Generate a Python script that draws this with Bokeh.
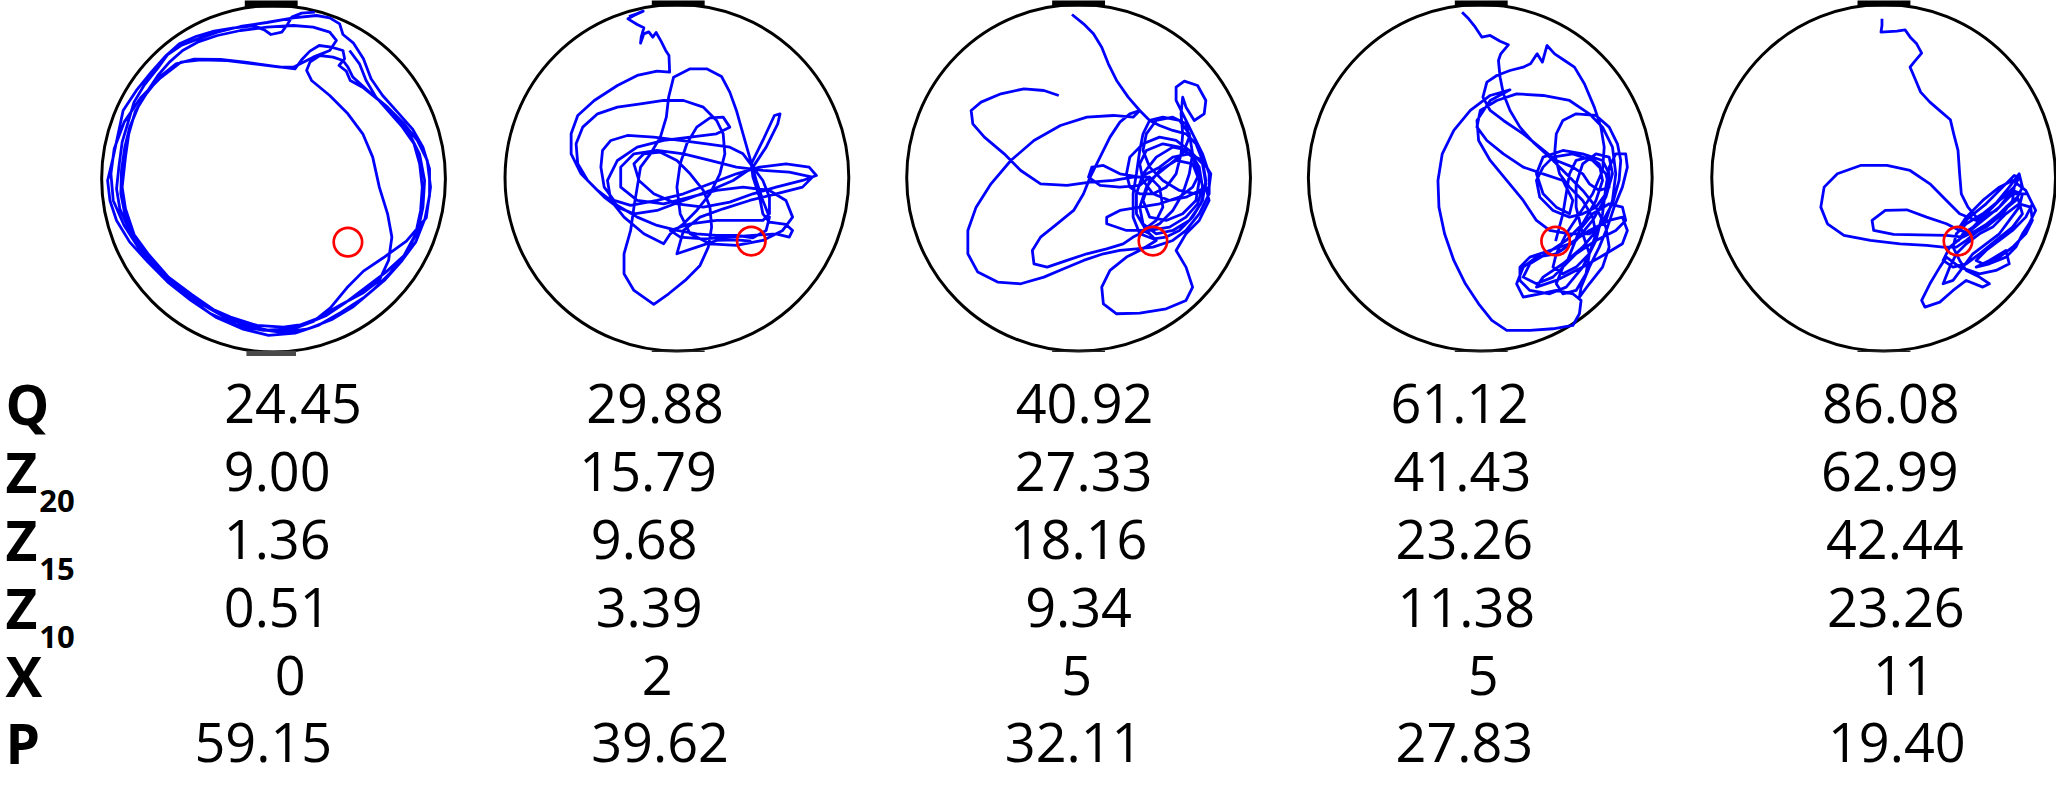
from bokeh.plotting import figure
from bokeh.models import Range1d, ColumnDataSource
from bokeh.core.properties import value
from bokeh.embed import file_html
from bokeh.resources import INLINE

# ---------------- data ----------------
Q_vals = [24.45, 29.88, 40.92, 61.12, 86.08]
Z20_vals = [9.00, 15.79, 27.33, 41.43, 62.99]
Z15_vals = [1.36, 9.68, 18.16, 23.26, 42.44]
Z10_vals = [0.51, 3.39, 9.34, 11.38, 23.26]
X_vals = [0, 2, 5, 5, 11]
P_vals = [59.15, 39.62, 32.11, 27.83, 19.40]

row_labels = ["Q", "Z", "Z", "Z", "X", "P"]
row_subs = ["", "20", "15", "10", "", ""]

# swim tracks in camera pixel coordinates of each pool's own frame
track1 = [(945,35),(905,38),(875,50),(862,72),(845,95),(812,102),(792,88),(760,76),(700,82),(640,92),(585,108),(535,130),(495,165),(450,215),(405,270),(365,330),(350,400),(335,470),(318,540),(325,600),(345,660),(385,725),(440,785),(500,845),(570,900),(645,950),(725,985),(805,1005),(885,998),(955,975),(1025,935),(1095,890),(1155,840),(1205,785),(1250,725),(1278,655),(1292,585),(1292,505),(1272,440),(1240,385),(1195,335),(1150,285),(1115,235),(1092,175),(1062,128),(1030,102),(1020,70),(990,52),(950,45),(880,52),(800,66),(720,78),(650,95),(590,116),(540,135),(500,162),(468,205),(428,255),(398,305),(380,365),(362,425),(352,500),(345,565),(355,625),(382,685),(422,745),(472,805),(532,862),(605,912),(685,957),(765,985),(845,996),(925,985),(995,958),(1062,918),(1122,868),(1172,818),(1222,758),(1257,690),(1272,620),(1277,540),(1262,462),(1232,402),(1192,352),(1142,302),(1092,262),(1052,240),(1040,212),(1018,195),(1035,175),(1030,150),(995,140),(958,135),(930,152),(905,178),(885,205),(820,197),(740,186),(660,177),(580,176),(525,190),(475,230),(435,280),(402,332),(382,400),(372,470),(362,560),(372,625),(398,702),(442,762),(502,830),(572,882),(642,930),(722,968),(802,990),(882,985),(942,962),(992,922),(1042,862),(1092,812),(1152,772),(1222,722),(1282,652),(1295,560),(1285,480),(1255,420),(1215,370),(1165,320),(1110,275),(1060,230),(1045,200),(1030,180),(1000,170),(960,165),(930,185),(920,210),(935,240),(990,285),(1045,340),(1090,400),(1120,470),(1140,560),(1165,640),(1178,710),(1168,780),(1140,840),(1090,878),(1025,912),(950,955),(870,985),(790,990),(710,975),(630,940),(560,890),(490,830),(420,755),(368,675),(335,600),(328,520),(338,445),(368,365),(418,292),(478,232),(540,185),(600,178),(680,180),(760,190),(840,200),(880,200),(940,170),(990,150),(1010,120),(990,95),(940,80),(880,75),(800,80),(720,90),(650,105),(590,125),(545,150),(505,185),(470,225),(440,270),(410,320),(385,380),(370,440),(360,510),(358,580),(370,640),(395,700),(430,760),(480,820),(540,870),(610,915),(690,950),(770,975),(850,980),(920,970),(980,945),(1040,905),(1100,860),(1160,815),(1215,765),(1250,700),(1265,630),(1270,560),(1262,490),(1245,430),(1210,380),(1170,335),(1130,290),(1100,240),(1080,190),(1050,150)]

track2 = [(455,48),(478,40),(498,32),(470,45),(452,55),(480,72),(500,82),(492,110),(490,128),(500,100),(515,94),(527,110),(537,96),(552,122),(566,150),(576,165),(578,215),(540,212),(480,225),(420,255),(350,300),(300,345),(280,400),(280,460),(310,520),(360,570),(420,615),(480,650),(540,675),(600,690),(660,700),(720,705),(780,705),(830,712),(870,690),(880,650),(860,600),(840,540),(820,470),(800,400),(780,330),(760,275),(735,228),(690,205),(640,205),(590,230),(575,290),(568,350),(550,410),(520,460),(490,500),(480,560),(470,620),(460,690),(440,760),(440,820),(470,870),(530,912),(575,880),(625,840),(670,795),(695,740),(705,680),(700,620),(680,570),(640,520),(600,480),(550,455),(500,460),(470,490),(485,540),(530,580),(600,610),(680,620),(760,605),(830,580),(900,560),(980,540),(1022,525),(1000,500),(930,490),(850,500),(780,520),(700,550),(620,580),(540,600),(460,615),(410,600),(380,560),(370,500),(375,450),(400,420),(450,405),(530,410),(610,420),(690,430),(760,440),(800,460),(830,500),(860,540),(880,590),(880,640),(860,660),(800,660),(720,660),(640,670),(580,690),(610,710),(680,715),(760,710),(830,705),(900,700),(940,710),(950,690),(930,672),(880,665),(860,640),(850,590),(830,530),(825,490),(860,420),(895,345),(912,340),(905,370),(870,440),(830,500),(770,540),(700,570),(620,600),(540,630),(470,640),(420,620),(380,590),(330,540),(300,490),(295,430),(315,380),(360,340),(420,320),(490,310),(560,300),(620,300),(680,320),(720,360),(740,400),(745,460),(730,520),(700,580),(660,630),(620,670),(580,700),(560,730),(500,700),(440,650),(400,600),(390,540),(420,480),(480,440),(560,420),(640,410),(720,400),(760,380),(740,350),(700,352),(660,380),(630,430),(610,490),(600,560),(610,640),(640,700),(700,730),(780,735),(860,720),(920,690),(950,650),(930,600),(880,570),(800,560),(720,570),(640,590),(560,610),(480,600),(430,560),(430,500),(470,460),(540,450),(620,460),(700,480),(780,500),(860,510),(940,515),(1010,530),(980,560),(900,580),(820,600),(740,625),(670,650),(620,690),(600,760),(660,740),(720,720),(780,718),(825,722)]

track3 = [(595,42),(630,70),(660,100),(685,140),(705,190),(730,240),(765,290),(800,330),(830,360),(860,375),(900,390),(940,400),(970,430),(990,480),(1000,540),(990,600),(960,650),(920,690),(880,710),(840,715),(800,700),(780,650),(780,580),(790,520),(800,450),(810,400),(830,360),(870,350),(920,360),(950,400),(960,460),(950,520),(930,580),(900,630),(860,670),(820,690),(780,710),(750,730),(700,745),(640,760),(580,780),(520,800),(480,790),(475,750),(500,710),(550,670),(600,630),(630,580),(650,530),(680,470),(710,410),(740,365),(770,340),(800,330),(780,350),(720,345),(640,350),(560,375),(480,420),(410,480),(350,550),(305,620),(280,690),(280,760),(310,815),(370,845),(440,850),(510,830),(570,805),(630,780),(690,760),(740,750),(790,745),(840,740),(900,720),(940,690),(980,640),(1010,580),(1010,520),(990,460),(960,400),(940,360),(910,300),(910,260),(935,242),(975,255),(1000,300),(995,340),(965,360),(940,320),(930,290),(925,340),(930,400),(925,460),(910,520),(880,560),(840,580),(800,580),(770,560),(760,520),(770,470),(810,430),(860,410),(910,420),(950,450),(980,500),(990,560),(975,610),(940,650),(890,680),(830,690),(760,690),(700,670),(700,650),(740,630),(800,620),(860,610),(920,590),(960,560),(980,520),(960,470),(920,440),(870,430),(820,450),(800,490),(810,540),(840,580),(890,600),(940,590),(1000,560),(1010,600),(980,660),(940,700),(910,750),(940,800),(960,860),(940,900),(880,925),(800,938),(730,940),(690,910),(685,860),(710,810),(760,770),(810,745),(850,720),(820,690),(790,640),(790,580),(810,520),(850,470),(900,440),(950,450),(990,490),(1000,550),(985,610),(950,660),(900,690),(850,700),(810,670),(800,620),(820,560),(860,510),(910,480),(960,490),(980,540),(970,600),(930,640),(880,660),(830,650),(810,600),(830,540),(880,500),(930,460),(950,410),(940,370),(900,350),(850,360),(820,400),(810,450),(830,500),(870,540),(920,570),(970,580),(1010,560),(1015,520),(990,480),(950,460),(900,470),(860,500),(800,530),(740,520),(690,495),(655,500),(645,530),(680,555),(740,560),(800,555),(830,530),(860,560),(870,620),(850,660),(810,690),(830,700),(810,690),(850,660),(870,620),(860,560),(830,530),(780,530),(720,540),(650,545),(580,555),(500,550),(440,510),(390,460),(330,410),(295,370),(290,330),(320,305),(380,280),(450,265),(510,270),(555,285)]

track4 = [(515,35),(535,55),(555,80),(575,110),(600,105),(630,122),(655,133),(632,160),(625,180),(630,230),(640,280),(660,330),(690,380),(730,425),(780,470),(830,520),(880,570),(920,620),(950,680),(960,740),(940,800),(900,850),(870,890),(875,860),(900,800),(930,740),(955,680),(975,620),(1000,560),(1015,500),(1010,460),(980,460),(960,500),(950,560),(940,640),(920,720),(880,800),(830,860),(780,880),(720,870),(690,840),(690,800),(720,770),(780,750),(840,730),(900,690),(960,660),(1000,650),(1015,690),(1000,730),(950,760),(880,800),(800,840),(740,860),(760,830),(820,790),(880,740),(930,680),(970,610),(990,540),(995,480),(985,430),(960,380),(920,345),(860,340),(820,360),(800,400),(795,460),(810,520),(840,560),(880,600),(910,650),(920,700),(900,760),(860,800),(820,820),(790,800),(800,760),(830,700),(870,640),(910,580),(940,510),(945,440),(935,380),(915,320),(885,250),(855,200),(825,180),(795,160),(772,135),(758,185),(742,160),(722,190),(700,200),(660,210),(620,225),(590,245),(578,290),(600,330),(640,360),(700,400),(750,440),(800,480),(850,500),(880,520),(900,550),(930,570),(960,560),(950,520),(910,480),(850,460),(790,470),(760,500),(740,540),(750,590),(790,630),(840,650),(880,640),(920,620),(950,580),(960,520),(940,480),(880,460),(820,450),(760,470),(740,520),(760,580),(800,620),(840,640),(850,600),(820,540),(760,520),(700,500),(640,460),(590,420),(560,380),(570,330),(620,300),(680,280),(760,285),(840,300),(900,340),(940,380),(970,440),(980,520),(970,600),(950,660),(900,700),(840,700),(780,690),(740,660),(700,600),(650,540),(600,480),(565,420),(560,360),(600,300),(660,268),(600,285),(540,330),(490,390),(455,460),(442,540),(445,620),(462,700),(490,780),(525,850),(565,910),(605,960),(650,990),(720,990),(790,985),(850,975),(870,940),(875,900),(850,880),(800,870),(750,880),(700,890),(680,850),(700,800),(740,770),(800,760),(860,720),(910,660),(950,590),(970,520),(960,470),(920,460),(880,490),(860,550),(860,620),(880,700),(900,760),(890,820),(860,870),(820,880),(800,850),(820,800),(860,760),(920,720),(980,690),(1010,660),(1000,620),(960,610),(910,640),(870,690),(850,740),(830,790),(790,830),(740,850),(700,830),(720,790),(770,760),(830,720),(880,670),(920,600),(940,540),(930,490),(900,470),(860,480),(840,520),(830,580),(820,640),(798,722)]

track5 = [(645,55),(645,75),(642,95),(690,92),(715,88),(732,112),(750,130),(765,158),(742,185),(730,200),(745,235),(762,275),(790,305),(825,335),(852,358),(862,400),(875,450),(880,520),(885,580),(905,620),(935,655),(980,620),(1030,560),(1060,520),(1070,560),(1050,600),(1000,640),(950,680),(900,720),(870,740),(830,740),(780,735),(700,730),(610,720),(530,705),(480,670),(460,620),(470,560),(510,520),(580,495),(660,495),(730,510),(790,550),(840,600),(880,640),(930,660),(990,630),(1040,580),(1085,580),(1110,630),(1090,670),(1070,700),(1050,740),(1020,770),(970,790),(930,800),(970,780),(1020,750),(1030,790),(990,810),(940,820),(880,800),(840,770),(820,800),(790,850),(765,900),(775,920),(820,905),(860,870),(900,840),(950,860),(970,850),(940,830),(900,810),(880,780),(860,740),(870,700),(900,670),(950,640),(1000,600),(1045,560),(1040,600),(1010,640),(960,680),(920,700),(880,690),(840,670),(780,650),(720,628),(655,630),(615,660),(620,690),(680,702),(760,703),(840,705),(890,710),(930,690),(980,660),(1020,620),(1055,590),(1070,640),(1040,680),(990,720),(940,760),(900,790),(860,800),(830,780),(850,740),(900,700),(950,660),(1000,620),(1040,570),(1060,530),(1045,525),(1010,560),(960,610),(910,650),(880,680),(900,650),(950,600),(1000,560),(1040,540),(1080,570),(1100,610),(1080,650),(1040,690),(1000,720),(960,750),(930,780),(950,790),(1000,770),(1040,740),(1080,700),(1100,660),(1095,620),(1060,610),(1020,640),(980,680),(940,700),(900,730),(870,760),(850,800),(830,850),(860,840),(890,800),(920,760),(960,730),(1000,700),(1030,660),(1060,620),(1070,580),(1040,570),(1000,600),(960,640),(920,680),(890,700),(875,722)]

tracks = [track1, track2, track3, track4, track5]

# platform position in each pool's camera frame
platform_x = [1045, 825, 840, 798, 875]
platform_y = [725, 722, 722, 722, 722]

# ---------------- layout (positions / sizes) ----------------
W, H = 2056, 784
X0, X1 = -2, 2071
YSCALE = 1.0
cam_cx = [820, 600, 615, 570, 650]
cam_cy = [535, 532, 532, 532, 532]
cam_r = 520
cue_cx = [813, 604, 615, 573, 651]
page_cx = [273.3, 680.0, 1085.0, 1490.0, 1896.7]
page_cy = [178.3, 177.3, 177.3, 177.3, 177.3]
page_r = 173.3

row_y = [428, 496, 564, 632, 700, 767]      # text baselines
cell_x = [[293, 658, 1091, 1469, 1904],
          [277, 651, 1090, 1472, 1903],
          [277, 647, 1085, 1474, 1908],
          [277, 652, 1085, 1476, 1909],
          [290, 660, 1083, 1493, 1917],
          [263, 663, 1080, 1474, 1910]]
label_x = 3
sub_x = 37
sub_dy = 19
NUM_FS, LAB_FS, SUB_FS = 54, 55, 31
DESC = 0.46  # empirical baseline correction (em)


def base(y, fs):
    return y - DESC * fs / YSCALE


p = figure(width=W, height=H, x_range=Range1d(X0, X1), y_range=Range1d(H, 0),
           output_backend="svg", toolbar_location=None,
           x_axis_location=None, y_axis_location=None, min_border=0)
p.grid.visible = False
p.outline_line_color = None
p.background_fill_color = "white"
p.border_fill_color = "white"

for i in range(5):
    cx, cy = cam_cx[i], cam_cy[i]
    sub = p.subplot(
        x_source=Range1d(cx - cam_r, cx + cam_r),
        y_source=Range1d(cy - cam_r, cy + cam_r),
        x_target=Range1d(page_cx[i] - page_r, page_cx[i] + page_r),
        y_target=Range1d(page_cy[i] - page_r, page_cy[i] + page_r),
    )
    sub.ellipse(x=[cx], y=[cy], width=[2 * cam_r], height=[2 * cam_r],
                fill_color=None, line_color="black", line_width=3.0)
    xs = [pt[0] for pt in tracks[i]]
    ys = [pt[1] for pt in tracks[i]]
    sub.line(x=xs, y=ys, line_color="#0000ff", line_width=2.8, line_join="round")
    sub.ellipse(x=[platform_x[i]], y=[platform_y[i]], width=[86], height=[86],
                fill_color=None, line_color="#ff0000", line_width=2.7)
    top = cy - cam_r
    bot = cy + cam_r
    sub.quad(left=[cue_cx[i] - 80], right=[cue_cx[i] + 80], top=[top - 30], bottom=[top + 7],
             fill_color="black", line_color=None)
    if i == 0:
        sub.quad(left=[cue_cx[i] - 75], right=[cue_cx[i] + 75], top=[bot - 4], bottom=[bot + 12],
                 fill_color="#4a4a4a", line_color=None)
    else:
        sub.quad(left=[cue_cx[i] - 80], right=[cue_cx[i] + 80], top=[bot - 2], bottom=[bot + 3],
                 fill_color="#222222", line_color=None)

# ---------------- table ----------------
rows = [Q_vals, Z20_vals, Z15_vals, Z10_vals, X_vals, P_vals]
tx, ty, tt = [], [], []
for r, vals in enumerate(rows):
    for c, v in enumerate(vals):
        tx.append(cell_x[r][c])
        ty.append(base(row_y[r], NUM_FS))
        tt.append(str(v) if isinstance(v, int) else f"{v:.2f}")
p.text(x="x", y="y", text="text", source=ColumnDataSource(dict(x=tx, y=ty, text=tt)),
       text_font=value("Open Sans"), text_font_size=f"{NUM_FS}px", text_color="black",
       text_align="center", text_baseline="alphabetic")

p.text(x=[label_x] * len(row_labels), y=[base(y, LAB_FS) for y in row_y], text=row_labels,
       text_font=value("Open Sans"), text_font_size=f"{LAB_FS}px", text_font_style="bold",
       text_color="black", text_align="left", text_baseline="alphabetic")

sx, sy, st = [], [], []
for r, s in enumerate(row_subs):
    if s:
        sx.append(sub_x)
        sy.append(base(row_y[r] + sub_dy, SUB_FS))
        st.append(s)
p.text(x=sx, y=sy, text=st,
       text_font=value("Open Sans"), text_font_size=f"{SUB_FS}px", text_font_style="bold",
       text_color="black", text_align="left", text_baseline="alphabetic")

open("out.html", "w").write(file_html(p, INLINE))
